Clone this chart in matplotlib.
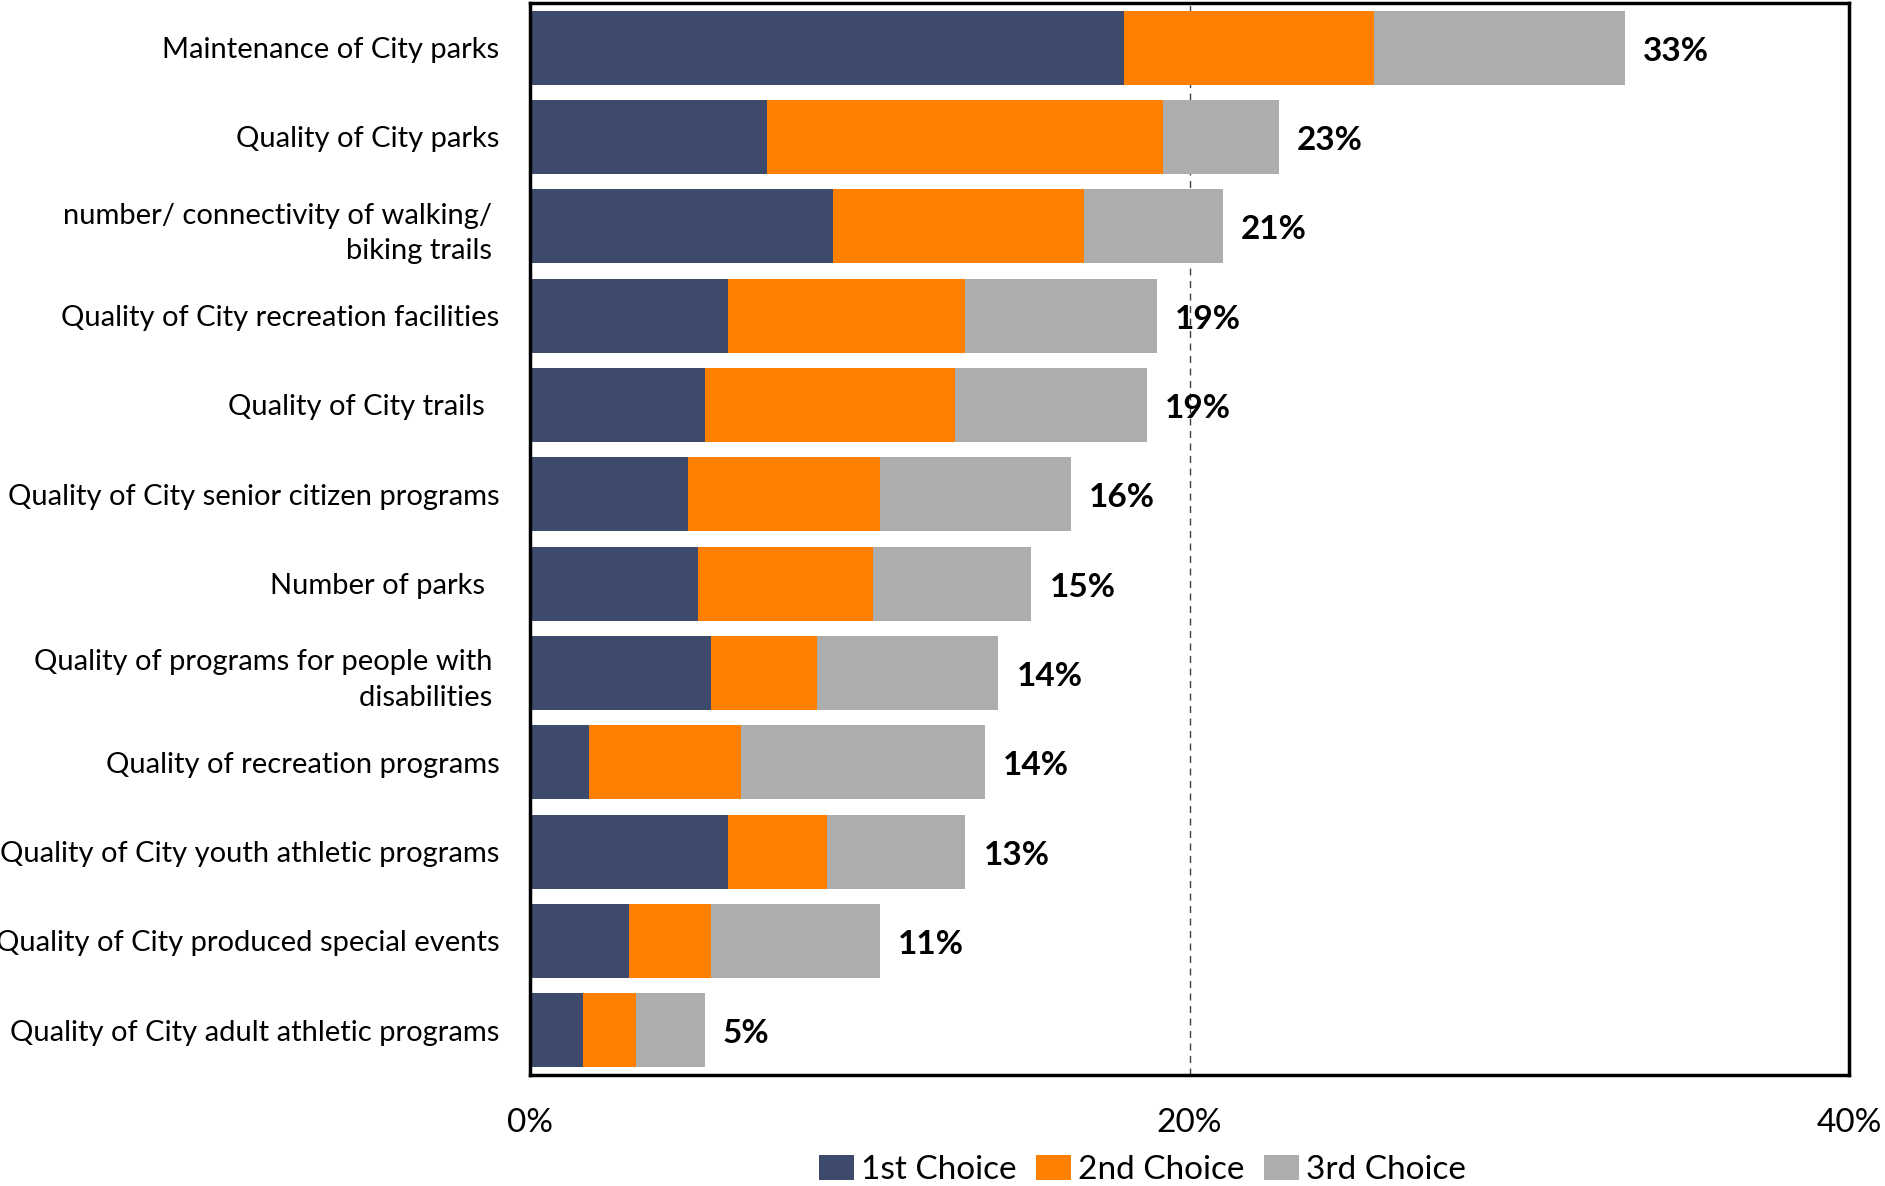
import matplotlib
matplotlib.use("Agg")
import matplotlib.pyplot as plt
import numpy as np

plt.rcParams['font.family'] = ['Lato', 'DejaVu Sans']

categories = [
    "Maintenance of City parks",
    "Quality of City parks",
    "number/ connectivity of walking/ \nbiking trails ",
    "Quality of City recreation facilities",
    "Quality of City trails  ",
    "Quality of City senior citizen programs",
    "Number of parks  ",
    "Quality of programs for people with \ndisabilities ",
    "Quality of recreation programs",
    "Quality of City youth athletic programs",
    "Quality of City produced special events",
    "Quality of City adult athletic programs",
]
first = [18.0, 7.2, 9.2, 6.0, 5.3, 4.8, 5.1, 5.5, 1.8, 6.0, 3.0, 1.6]
second = [7.6, 12.0, 7.6, 7.2, 7.6, 5.8, 5.3, 3.2, 4.6, 3.0, 2.5, 1.6]
third = [7.6, 3.5, 4.2, 5.8, 5.8, 5.8, 4.8, 5.5, 7.4, 4.2, 5.1, 2.1]
series_names = ["1st Choice", "2nd Choice", "3rd Choice"]
colors = ["#3D4A6B", "#FF8000", "#ADADAD"]

first = np.array(first)
second = np.array(second)
third = np.array(third)
total = first + second + third
y = np.arange(len(categories))

fig = plt.figure(figsize=(18.85, 11.86), dpi=100)
ax = fig.add_axes([0.2812, 0.0936, 0.6997, 0.9039])

h = 0.83
ax.barh(y, first, height=h, color=colors[0], label=series_names[0], zorder=2)
ax.barh(y, second, left=first, height=h, color=colors[1], label=series_names[1], zorder=2)
ax.barh(y, third, left=first + second, height=h, color=colors[2], label=series_names[2], zorder=2)

ax.axvline(20, color="#404040", lw=1.0, ls=(0, (5, 4)), zorder=1)

# bold total labels just right of each bar
for yi, t in zip(y, total):
    ax.text(t + 0.55, yi + 0.04, f"{t:.0f}%", ha="left", va="center",
            fontsize=24, fontweight="bold", zorder=3)

ax.set_xlim(0, 40)
ax.set_ylim(len(categories) - 0.5, -0.5)
ax.set_xticks([0, 20, 40])
ax.set_xticklabels(["0%", "20%", "40%"], fontsize=24)
ax.set_yticks(y)
ax.set_yticklabels(categories, fontsize=21, linespacing=1.45)
ax.tick_params(axis="both", length=0)
ax.tick_params(axis="y", pad=22)
ax.tick_params(axis="x", pad=24)
for s in ax.spines.values():
    s.set_linewidth(2.5)
    s.set_color("black")

fig.legend(loc="center", bbox_to_anchor=(0.606, 0.0135), ncol=3,
           frameon=False, fontsize=24, handlelength=1.05, handleheight=0.8,
           handletextpad=0.2, columnspacing=0.6)

fig.savefig("out.png", dpi=100)
